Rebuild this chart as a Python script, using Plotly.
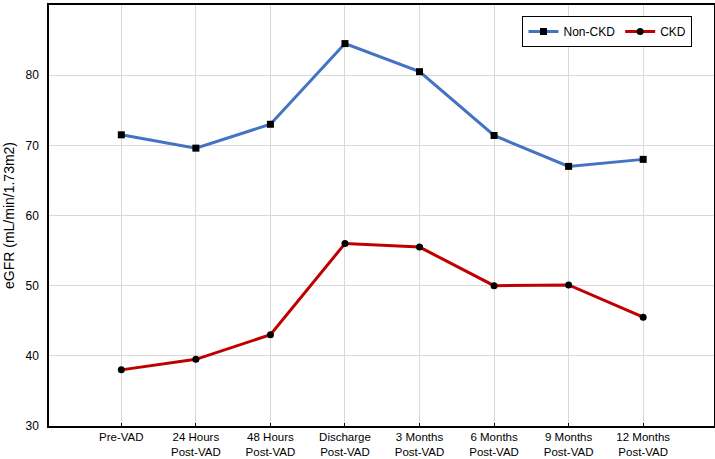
import plotly.graph_objects as go

categories = ["Pre-VAD", "24 Hours<br>Post-VAD", "48 Hours<br>Post-VAD", "Discharge<br>Post-VAD",
              "3 Months<br>Post-VAD", "6 Months<br>Post-VAD", "9 Months<br>Post-VAD", "12 Months<br>Post-VAD"]
non_ckd = [71.5, 69.6, 73.0, 84.5, 80.5, 71.4, 67.0, 68.0]
ckd = [38.0, 39.5, 43.0, 56.0, 55.5, 50.0, 50.1, 45.5]
yticks = [30, 40, 50, 60, 70, 80, 90]

xpos = list(range(len(categories)))

fig = go.Figure()
fig.add_trace(go.Scatter(x=xpos, y=non_ckd, mode="lines+markers", name="Non-CKD",
                         line=dict(color="#4472C4", width=3),
                         marker=dict(symbol="square", size=7, color="black")))
fig.add_trace(go.Scatter(x=xpos, y=ckd, mode="lines+markers", name="CKD",
                         line=dict(color="#C00000", width=3),
                         marker=dict(symbol="circle", size=7, color="black")))

fig.update_layout(
    width=715, height=459,
    margin=dict(l=49, r=1, t=5, b=33),
    paper_bgcolor="white", plot_bgcolor="white",
    font=dict(family="Liberation Sans, Arial, sans-serif", size=12, color="black"),
    legend=dict(orientation="h", x=0.712, y=0.974, xanchor="left", yanchor="top",
                bordercolor="black", borderwidth=1, bgcolor="white",
                font=dict(size=12), itemwidth=30, tracegroupgap=0),
    showlegend=True,
)
fig.update_xaxes(range=[-0.97, 7.95], tickmode="array", tickvals=xpos, ticktext=categories,
                 showgrid=True, gridcolor="#D9D9D9", gridwidth=1,
                 showline=True, linecolor="black", linewidth=1.5, mirror=True,
                 ticks="inside", ticklen=3, tickcolor="black", zeroline=False,
                 automargin=False, ticklabelstandoff=-1, tickfont=dict(size=11.5))
fig.update_yaxes(range=[30, 90], tickmode="array", tickvals=yticks,
                 title=dict(text="eGFR (mL/min/1.73m2)", standoff=8),
                 showgrid=True, gridcolor="#D9D9D9", gridwidth=1,
                 showline=True, linecolor="black", linewidth=1.5, mirror=True,
                 ticks="", zeroline=False, ticklabelstandoff=6, automargin=False)

fig.write_html("out.html")
